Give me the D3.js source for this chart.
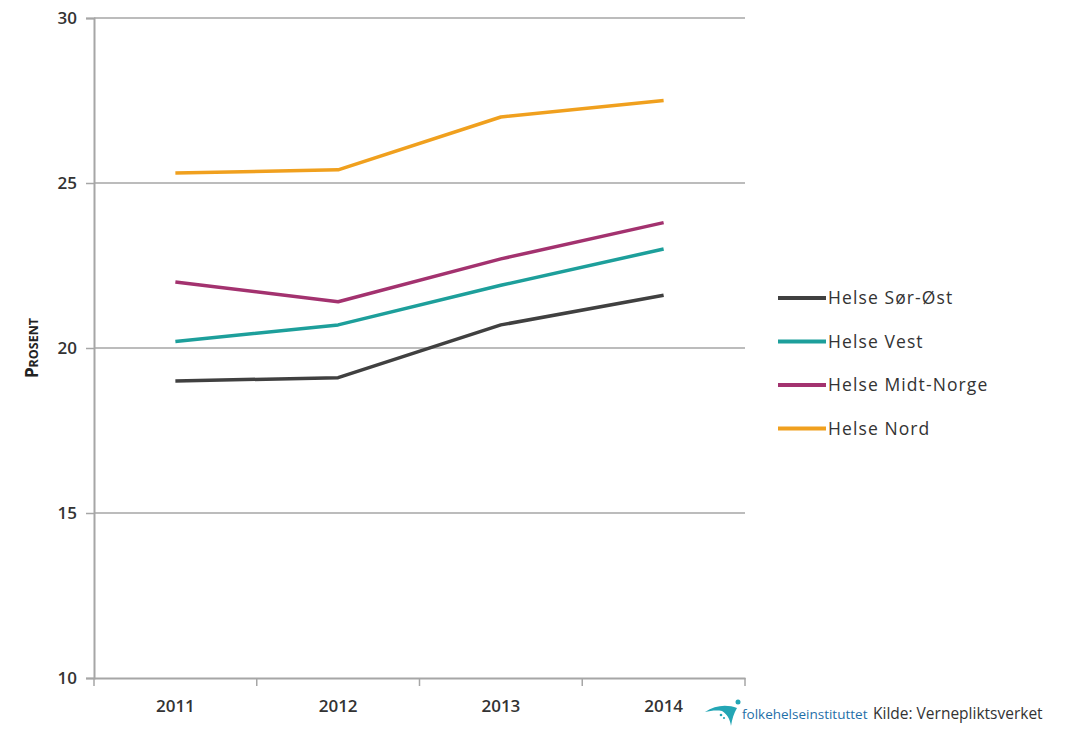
<!DOCTYPE html>
<html>
<head>
<meta charset="utf-8">
<script src="https://cdn.jsdelivr.net/npm/d3@7"></script>
<style>
  html, body { margin: 0; padding: 0; background: #fff; }
  svg { display: block; }
  text { font-family: "Open Sans", "Noto Sans", sans-serif; }
</style>
</head>
<body>
<svg id="chart" width="1068" height="731"></svg>
<script>
// Share of conscripts per health region, 2011–2014 (percent)
const years = ["2011", "2012", "2013", "2014"];
const seriesNames = ["Helse Sør-Øst", "Helse Vest", "Helse Midt-Norge", "Helse Nord"];
const sorOst    = [19.0, 19.1, 20.7, 21.6];
const vest      = [20.2, 20.7, 21.9, 23.0];
const midtNorge = [22.0, 21.4, 22.7, 23.8];
const nord      = [25.3, 25.4, 27.0, 27.5];
const yTicks = [10, 15, 20, 25, 30];
const colors = ["#404040", "#1d9f9b", "#a3326f", "#f0a01e"];

const series = [sorOst, vest, midtNorge, nord].map((values, i) => ({
  name: seriesNames[i], values, color: colors[i]
}));

const svg = d3.select("#chart");
const plotLeft = 94, plotRight = 745, plotTop = 18, plotBottom = 678;

const x = d3.scaleBand().domain(years).range([plotLeft, plotRight]).padding(0);
const y = d3.scaleLinear().domain([10, 30]).range([plotBottom, plotTop]);

// horizontal gridlines
svg.append("g")
  .selectAll("line")
  .data(yTicks.filter(t => t > 10))
  .join("line")
  .attr("x1", plotLeft).attr("x2", plotRight)
  .attr("y1", d => y(d)).attr("y2", d => y(d))
  .attr("stroke", "#a6a6a6").attr("stroke-width", 1.5);

// y axis
const yAxis = svg.append("g")
  .attr("transform", `translate(${plotLeft},0)`)
  .call(d3.axisLeft(y).tickValues(yTicks).tickSize(8).tickPadding(9));
yAxis.select(".domain").attr("stroke", "#a6a6a6").attr("stroke-width", 2);
yAxis.selectAll(".tick line").attr("stroke", "#a6a6a6").attr("stroke-width", 1.5);
yAxis.selectAll(".tick text")
  .attr("fill", "#333").attr("font-size", 17).attr("font-weight", 600)
  .attr("font-family", "'Open Sans', sans-serif");

// x axis
const xAxis = svg.append("g")
  .attr("transform", `translate(0,${plotBottom})`)
  .call(d3.axisBottom(x).tickSize(0).tickPadding(22));
xAxis.select(".domain").attr("stroke", "#a6a6a6").attr("stroke-width", 2);
xAxis.selectAll(".tick text")
  .attr("fill", "#333").attr("font-size", 17).attr("font-weight", 600)
  .attr("font-family", "'Open Sans', sans-serif");
// boundary tick marks between categories
const bounds = years.map(d => x(d)).concat([x(years[years.length - 1]) + x.bandwidth()]);
svg.append("g")
  .selectAll("line")
  .data(bounds)
  .join("line")
  .attr("x1", d => d).attr("x2", d => d)
  .attr("y1", plotBottom).attr("y2", plotBottom + 8)
  .attr("stroke", "#a6a6a6").attr("stroke-width", 1.5);

// y axis title in small caps
const yTitle = svg.append("text")
  .attr("transform", `translate(38,${(plotTop + plotBottom) / 2}) rotate(-90)`)
  .attr("text-anchor", "middle")
  .attr("fill", "#222").attr("font-weight", 700)
  .attr("font-family", "'Liberation Sans', sans-serif");
yTitle.append("tspan").attr("font-size", 17).text("P");
yTitle.append("tspan").attr("font-size", 12.5).text("ROSENT");

// lines
const line = d3.line()
  .x((d, i) => x(years[i]) + x.bandwidth() / 2)
  .y(d => y(d));

svg.append("g")
  .selectAll("path")
  .data(series)
  .join("path")
  .attr("d", d => line(d.values))
  .attr("fill", "none")
  .attr("stroke", d => d.color)
  .attr("stroke-width", 3.5)
  .attr("stroke-linejoin", "round");

// legend
const legend = svg.append("g")
  .selectAll("g")
  .data(series)
  .join("g")
  .attr("transform", (d, i) => `translate(778,${298 + i * 43.5})`);
legend.append("line")
  .attr("x1", 0).attr("x2", 48).attr("y1", 0).attr("y2", 0)
  .attr("stroke", d => d.color).attr("stroke-width", 4);
legend.append("text")
  .attr("x", 50).attr("y", 6)
  .attr("fill", "#333").attr("font-size", 17.5)
  .attr("letter-spacing", 1.1)
  .text(d => d.name);

// source line with institute mark
const logo = svg.append("g").attr("transform", "translate(705,698)");
logo.append("path")
  .attr("d", "M0,14 C10,7 22,6 32,10 C29,15 27,21 26,28 C25,21 22,16 17,13 C11,12 5,13 0,14 Z")
  .attr("fill", "#24a6b5");
logo.append("circle").attr("cx", 33).attr("cy", 4).attr("r", 2.5).attr("fill", "#24a6b5");
logo.append("circle").attr("cx", 16).attr("cy", 17).attr("r", 1.3).attr("fill", "#24a6b5");
logo.append("circle").attr("cx", 19).attr("cy", 20).attr("r", 1.1).attr("fill", "#24a6b5");

svg.append("text")
  .attr("x", 742).attr("y", 719)
  .attr("font-size", 13.5).attr("fill", "#1f6fa8")
  .attr("font-family", "'Liberation Sans Narrow', 'Liberation Sans', sans-serif")
  .text("folkehelseinstituttet");
svg.append("text")
  .attr("x", 873).attr("y", 719)
  .attr("font-size", 15.5).attr("fill", "#333")
  .text("Kilde: Vernepliktsverket");
</script>
</body>
</html>
